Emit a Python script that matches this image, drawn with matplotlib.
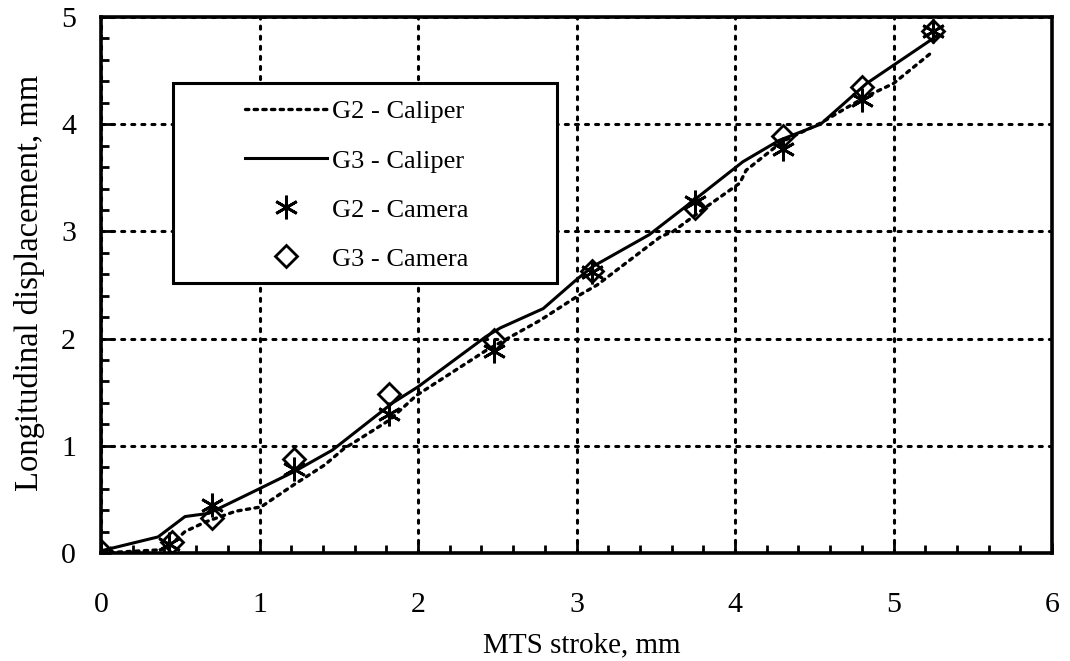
import matplotlib
matplotlib.use("Agg")
import matplotlib.pyplot as plt
from matplotlib.patches import Rectangle
from matplotlib.ticker import MultipleLocator

plt.rcParams['font.family'] = ['Liberation Serif', 'DejaVu Serif']

# ---- data ----
g3_cal_x = [0, 0.36, 0.53, 0.68, 1.0, 1.22, 1.46, 1.84, 2.0, 2.43, 2.52, 2.79, 3.0, 3.1,
            3.46, 3.74, 4.05, 4.28, 4.54, 4.83, 5.27]
g3_cal_y = [0.02, 0.15, 0.34, 0.37, 0.6, 0.76, 0.96, 1.40, 1.55, 2.02, 2.1, 2.28, 2.55, 2.67,
            2.97, 3.29, 3.65, 3.85, 4.0, 4.38, 4.82]

g2_cal_x = [0, 0.38, 0.45, 0.53, 0.66, 0.85, 1.01, 1.22, 1.41, 1.53, 1.82, 1.99, 2.43, 2.77,
            3.0, 3.13, 3.53, 3.61, 3.82, 4.03, 4.07, 4.3, 4.54, 4.7, 4.83, 5.0, 5.25]
g2_cal_y = [0.0, 0.03, 0.09, 0.2, 0.29, 0.39, 0.43, 0.64, 0.82, 0.97, 1.24, 1.47, 1.89, 2.17,
            2.39, 2.50, 2.95, 3.0, 3.23, 3.45, 3.57, 3.84, 4.01, 4.15, 4.26, 4.38, 4.68]

g2_cam_x = [0, 0.43, 0.7, 1.22, 1.82, 2.48, 3.1, 3.75, 4.3, 4.8, 5.25]
g2_cam_y = [0, 0.08, 0.45, 0.78, 1.3, 1.88, 2.62, 3.27, 3.77, 4.23, 4.87]

g3_cam_x = [0, 0.45, 0.7, 1.22, 1.82, 2.48, 3.1, 3.75, 4.3, 4.8, 5.25]
g3_cam_y = [0.02, 0.1, 0.33, 0.88, 1.48, 1.99, 2.63, 3.22, 3.89, 4.35, 4.87]

labels = ['G2 - Caliper', 'G3 - Caliper', 'G2 - Camera', 'G3 - Camera']
x_ticks = [0, 1, 2, 3, 4, 5, 6]
y_ticks = [0, 1, 2, 3, 4, 5]

W, H = 1070, 661
fig = plt.figure(figsize=(W / 100, H / 100), dpi=100)
L, R, T, B = 101, 1052, 17, 553
ax = fig.add_axes([L / W, 1 - B / H, (R - L) / W, (B - T) / H])

FS = 19
l1, = ax.plot(g2_cal_x, g2_cal_y, color='black', lw=2.4, linestyle=(0, (1, 1.6)),
              dash_capstyle='round', zorder=3)
l2, = ax.plot(g3_cal_x, g3_cal_y, color='black', lw=2.2, linestyle='-', zorder=3)
m1, = ax.plot(g2_cam_x, g2_cam_y, linestyle='none', marker=(6, 2, 0), ms=17, mew=2,
              color='black', zorder=4)
m2, = ax.plot(g3_cam_x, g3_cam_y, linestyle='none', marker='D', ms=11, mew=2,
              mfc='none', mec='black', zorder=4)

ax.set_xlim(0, 6)
ax.set_ylim(0, 5)
ax.set_xticks(x_ticks)
ax.set_yticks(y_ticks)
ax.set_xticklabels([str(v) for v in x_ticks])
ax.set_yticklabels([str(v) for v in y_ticks])
ax.xaxis.set_minor_locator(MultipleLocator(0.2))
ax.yaxis.set_minor_locator(MultipleLocator(0.2))
ax.tick_params(which='both', direction='in', top=False, right=False, width=2)
ax.tick_params(which='major', length=7)
ax.tick_params(which='minor', length=6)
ax.tick_params(axis='x', which='major', labelsize=21.5, pad=28)
ax.tick_params(axis='y', which='major', labelsize=21.5, pad=18)

ax.grid(True, which='major', color='black', lw=2.2, linestyle=(0, (1, 2.3)),
        dash_capstyle='round')
for s in ax.spines.values():
    s.set_linewidth(2.6)

ax.set_xlabel('MTS stroke, mm', fontsize=21)
ax.set_ylabel('Longitudinal displacement, mm', fontsize=23.5)
ax.xaxis.label.set_va('center')
ax.yaxis.label.set_va('center')
ax.xaxis.set_label_coords((582 - L) / (R - L), (B - 645) / (B - T))
ax.yaxis.set_label_coords((30 - L) / (R - L), (B - 283) / (B - T))

# legend frame
lx0, lx1, ly0, ly1 = 173, 557, 83, 283
rect = Rectangle(((lx0 - L) / (R - L), (B - ly1) / (B - T)),
                 (lx1 - lx0) / (R - L), (ly1 - ly0) / (B - T),
                 transform=ax.transAxes, facecolor='white', edgecolor='black',
                 lw=2.2, zorder=5)
ax.add_patch(rect)
leg = ax.legend([l1, l2, m1, m2], labels, loc='upper left',
                bbox_to_anchor=(245 / W, 1 - 100 / H), bbox_transform=fig.transFigure,
                frameon=False, fontsize=FS, handlelength=3.1, handletextpad=0.2,
                labelspacing=0.97, borderpad=0, borderaxespad=0)
leg.set_zorder(6)

fig.savefig('out.png', dpi=100)
